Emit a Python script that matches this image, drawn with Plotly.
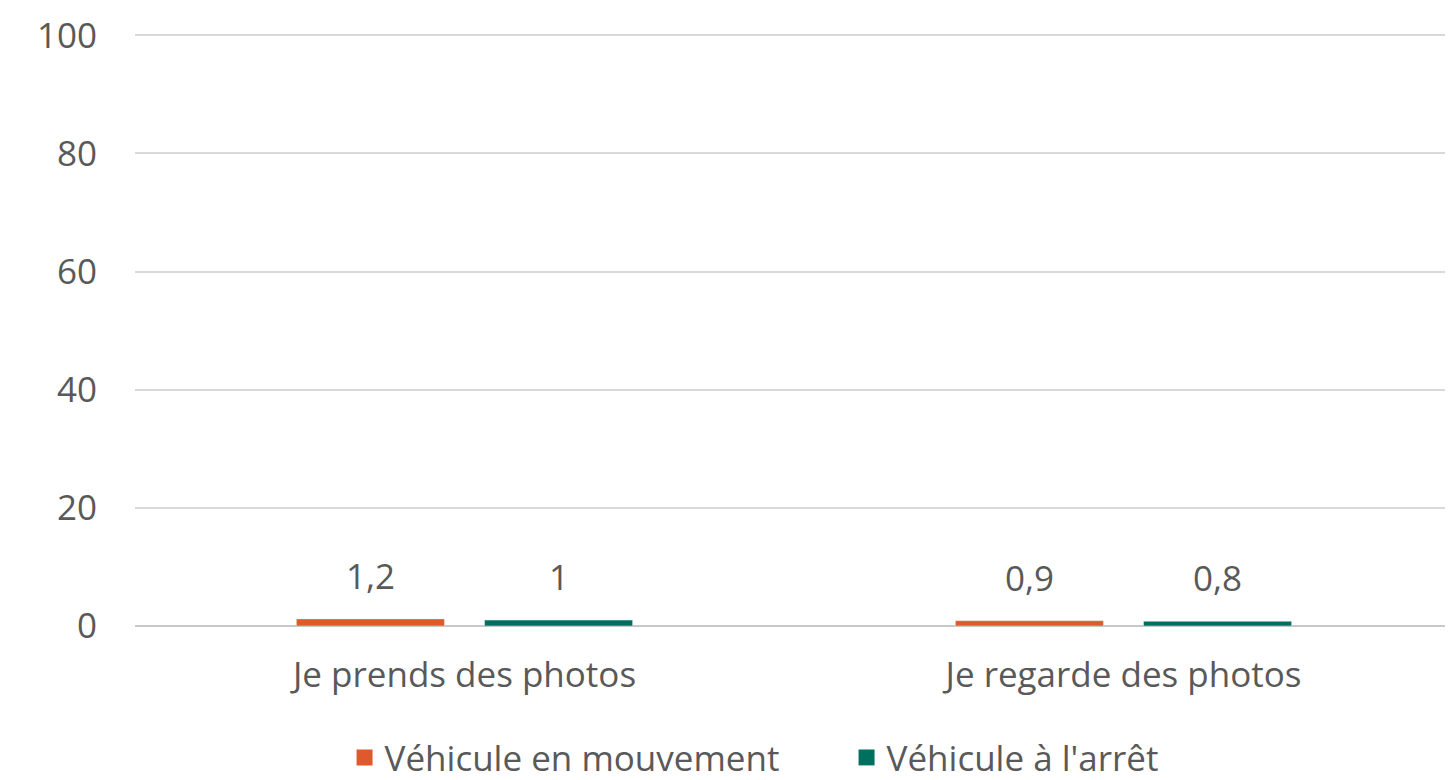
import plotly.graph_objects as go

categories = ["Je prends des photos", "Je regarde des photos"]
series_names = ["Véhicule en mouvement", "Véhicule à l'arrêt"]
moving = [1.2, 0.9]
stopped = [1.0, 0.8]
colors = ["#E0582E", "#00705E"]
y_ticks = [0, 20, 40, 60, 80, 100]

font_family = "Open Sans, Lato, sans-serif"
gray = "#595959"
fsize = 35

fig = go.Figure()
for name, vals, col in zip(series_names, [moving, stopped], colors):
    fig.add_trace(go.Bar(
        x=categories, y=vals, name=name, marker_color=col, showlegend=False,
        offsetgroup=name,
    ))
    # legend proxy with a larger square symbol
    fig.add_trace(go.Scatter(
        x=[None], y=[None], mode="markers", name=name,
        marker=dict(symbol="square", size=26, color=col),
    ))

# value labels above bars, positioned from data
shift = 94
for vals, xs in [(moving, -shift), (stopped, shift)]:
    for c, v in zip(categories, vals):
        fig.add_annotation(
            x=c, y=v, xref="x", yref="y", text=f"{v:g}".replace(".", ","),
            showarrow=False, xshift=xs, yshift=18, yanchor="bottom",
            font=dict(size=fsize, color=gray, family=font_family),
        )

fig.update_layout(
    width=1445, height=772,
    margin=dict(l=127, r=0, t=25, b=154, autoexpand=False),
    plot_bgcolor="white", paper_bgcolor="white",
    barmode="group", bargap=0.429, bargroupgap=0.213,
    separators=",.",
    font=dict(family=font_family, size=fsize, color=gray),
    legend=dict(orientation="h", x=0.159, xanchor="left", y=-0.222, yanchor="middle",
                font=dict(size=fsize, color=gray), itemwidth=30, traceorder="normal",
                entrywidth=457, entrywidthmode="pixels"),
)
fig.update_xaxes(showgrid=False, showline=False, ticks="outside", ticklen=18, tickcolor="rgba(0,0,0,0)",
                 tickfont=dict(size=fsize, color=gray))
fig.update_yaxes(range=[0, 100.4], tickvals=y_ticks, showgrid=True, gridcolor="#D9D9D9", gridwidth=1.5,
                 zeroline=True, zerolinecolor="#C8C8C8", zerolinewidth=2,
                 ticks="outside", ticklen=30, tickcolor="rgba(0,0,0,0)",
                 tickfont=dict(size=fsize, color=gray))

fig.write_html("out.html")
